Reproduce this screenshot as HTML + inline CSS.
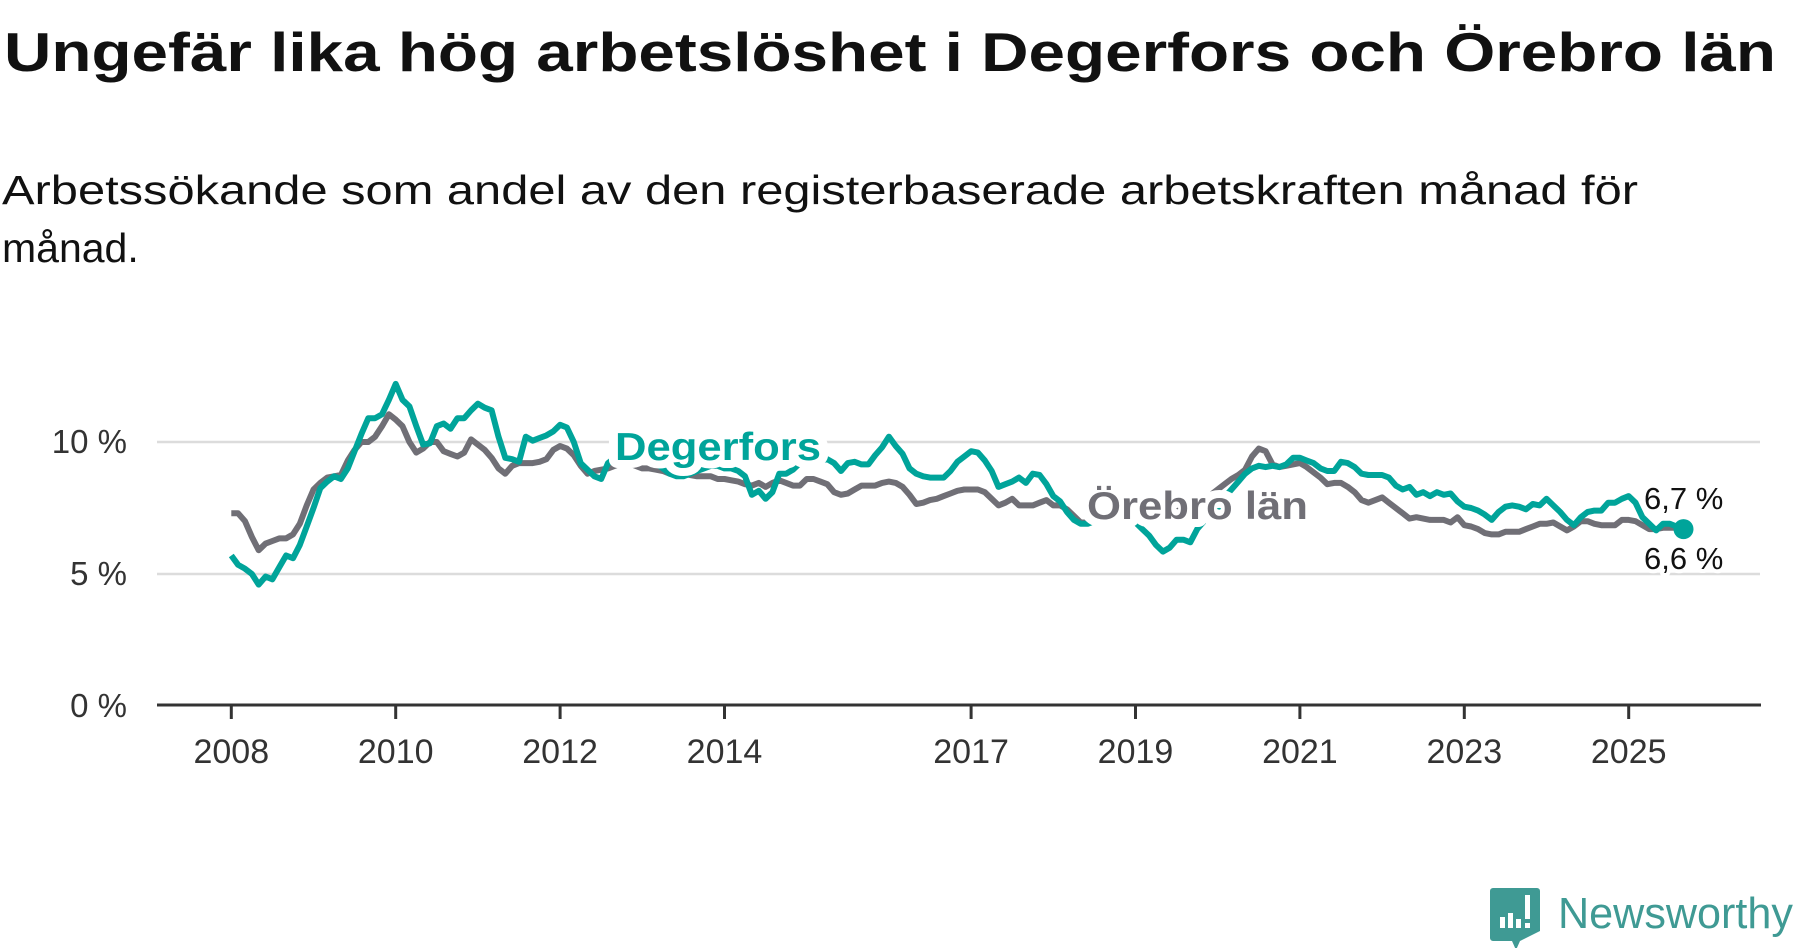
<!DOCTYPE html>
<html><head><meta charset="utf-8"><style>
html,body{margin:0;padding:0;background:#fff}
svg{display:block}
text{font-family:"Liberation Sans",sans-serif}
</style></head><body>
<svg id="chart" width="1800" height="948" viewBox="0 0 1800 948">
<text x="4" y="71" font-size="55" font-weight="bold" fill="#111" textLength="1772" lengthAdjust="spacingAndGlyphs">Ungefär lika hög arbetslöshet i Degerfors och Örebro län</text>
<text x="2" y="204" font-size="41" fill="#111" textLength="1636" lengthAdjust="spacingAndGlyphs">Arbetssökande som andel av den registerbaserade arbetskraften månad för</text>
<text x="2" y="262" font-size="41" fill="#111">månad.</text>
<g id="grid"></g><g id="axis"></g><g id="series"></g><g id="labels"></g>
<g>
<path d="M1493 888 h44 a3 3 0 0 1 3 3 v40 l-20 10 l-4 9 l-4 -9 h-19 a3 3 0 0 1 -3 -3 v-47 a3 3 0 0 1 3 -3z" fill="#3f9a94"/>
<rect x="1500" y="917" width="5" height="11" fill="#fff"/><rect x="1508" y="913" width="5" height="15" fill="#fff"/><rect x="1516" y="919" width="5" height="9" fill="#fff"/><rect x="1525" y="895" width="5" height="24" fill="#fff"/><rect x="1525" y="923" width="5" height="5" fill="#fff"/>
<text x="1558" y="928" font-size="44" fill="#3f9a94" textLength="235" lengthAdjust="spacingAndGlyphs">Newsworthy</text>
</g>
</svg>
<script>
const startYear = 2008;
const yTicks = [0, 5, 10];
const yTickLabels = ["0 %", "5 %", "10 %"];
const xTicks = [2008, 2010, 2012, 2014, 2017, 2019, 2021, 2023, 2025];
const degerfors = [5.7,5.35,5.2,5.0,4.6,4.9,4.8,5.25,5.7,5.6,6.1,6.8,7.5,8.25,8.5,8.7,8.6,9.0,9.65,10.3,10.9,10.9,11.05,11.6,12.2,11.6,11.35,10.6,9.9,9.95,10.6,10.7,10.5,10.9,10.9,11.2,11.45,
11.3,11.2,10.2,9.4,9.35,9.25,10.2,10.05,10.15,10.25,10.4,10.65,10.55,10.0,9.2,8.95,8.7,8.6,9.2,
9.4,9.5,9.6,9.5,9.4,9.3,9.2,9.0,8.8,8.7,8.7,8.8,8.9,9.0,9.1,9.1,9.0,9.0,8.9,
8.7,8.0,8.15,7.85,8.1,8.8,8.8,8.95,9.2,9.3,9.35,9.3,9.35,9.2,8.9,9.2,9.25,9.15,9.15,9.5,9.8,10.2,9.85,9.55,9.0,8.8,8.7,8.65,8.65,8.65,8.9,9.25,9.45,9.65,9.6,9.3,8.9,8.3,8.4,8.5,8.65,8.45,8.8,8.75,8.4,7.95,7.75,7.35,7.05,6.9,
6.9,7.0,7.0,7.1,7.1,7.1,7.05,6.95,6.7,6.45,6.1,5.85,6.0,6.3,6.3,6.2,6.7,7.0,7.2,7.5,7.9,8.2,8.5,8.8,9.0,9.1,9.05,9.1,9.05,9.15,9.4,9.4,9.3,9.2,9.0,8.9,8.9,9.25,9.2,9.05,8.8,8.75,8.75,8.75,8.65,8.35,8.2,8.3,8.0,8.1,7.95,8.1,8.0,8.05,7.75,7.55,7.5,7.4,7.25,7.05,7.35,7.55,7.6,7.55,7.45,7.65,7.6,7.85,7.6,7.35,7.05,6.85,7.15,7.35,7.4,7.4,7.7,7.7,7.85,7.95,7.7,7.15,6.9,6.65,6.9,6.9,6.8,6.7];
const orebro = [7.3,7.3,7.0,6.4,5.9,6.15,6.25,6.35,6.35,6.5,6.9,7.6,8.2,8.45,8.65,8.7,8.75,9.3,9.7,10.0,10.0,10.2,10.6,11.05,10.85,10.6,10.0,9.6,9.75,10.0,10.0,9.65,9.55,9.45,9.6,10.1,9.9,
9.7,9.4,9.0,8.8,9.1,9.2,9.2,9.2,9.25,9.35,9.7,9.85,9.75,9.5,9.1,8.8,8.9,8.95,9.0,
9.1,9.2,9.2,9.1,9.0,9.0,8.95,8.9,8.8,8.8,8.8,8.75,8.7,8.7,8.7,8.6,8.6,8.55,8.5,
8.4,8.35,8.45,8.3,8.45,8.55,8.45,8.35,8.35,8.6,8.6,8.5,8.4,8.1,8.0,8.05,8.2,8.35,8.35,8.35,8.45,8.5,8.45,8.3,8.0,7.65,7.7,7.8,7.85,7.95,8.05,8.15,8.2,8.2,8.2,8.1,7.85,7.6,7.7,7.85,7.6,7.6,7.6,7.7,7.8,7.6,7.6,7.45,7.2,6.95,
6.95,7.0,7.05,7.1,7.1,7.15,7.2,7.25,7.3,7.35,7.4,7.45,7.5,7.55,7.6,7.7,7.8,7.9,8.0,8.2,8.4,8.6,8.75,
8.95,9.45,9.75,9.65,9.15,9.05,9.1,9.15,9.2,9.05,8.85,8.65,8.4,8.45,8.45,8.3,8.1,7.8,7.7,7.8,7.9,7.7,7.5,7.3,7.1,7.15,7.1,7.05,7.05,7.05,6.95,7.15,6.85,6.8,6.7,6.55,6.5,6.5,6.6,6.6,6.6,6.7,6.8,6.9,6.9,6.95,6.8,6.65,6.8,7.0,7.0,6.9,6.85,6.85,6.85,7.05,7.05,7.0,6.85,6.7,6.7,6.75,6.75,6.75,6.6];
const seriesNames = ["Örebro län", "Degerfors"];

const NS = "http://www.w3.org/2000/svg";
const X0 = 231.3, PXYEAR = 82.2, Y0 = 706, PXUNIT = 26.4;
function xScale(year){ return X0 + (year - startYear) * PXYEAR; }
function yScale(v){ return Y0 - v * PXUNIT; }
function monthX(i){ return xScale(startYear + i / 12); }
function mk(tag, attrs, parent){ const e = document.createElementNS(NS, tag); for (const k in attrs) e.setAttribute(k, attrs[k]); parent.appendChild(e); return e; }
const grid = document.getElementById('grid'), axis = document.getElementById('axis'), ser = document.getElementById('series'), lab = document.getElementById('labels');

yTicks.forEach((t, i) => {
  if (t > 0) {
    const gl = mk('line', {x1:157, x2:1760, y1:yScale(t), y2:yScale(t), stroke:'#dcdcdc', 'stroke-width':2.5}, grid);
    
    
  }
  const tl = mk('text', {x:127, y:yScale(t) + 11, 'font-size':33, fill:'#333', 'text-anchor':'end'}, axis);
  tl.textContent = yTickLabels[i];
  
  
});
const ax = mk('line', {x1:157, x2:1761, y1:705, y2:705, stroke:'#333', 'stroke-width':3}, axis);


xTicks.forEach(t => {
  const tk = mk('line', {x1:xScale(t), x2:xScale(t), y1:705, y2:719, stroke:'#333', 'stroke-width':3}, axis);
  
  
  const tl = mk('text', {x:xScale(t), y:763, 'font-size':34, fill:'#333', 'text-anchor':'middle'}, axis);
  tl.textContent = String(t);
  
  
});
function pathFor(arr){ return arr.map((v, i) => (i ? 'L' : 'M') + monthX(i).toFixed(1) + ' ' + yScale(v).toFixed(1)).join(' '); }
const pg = mk('path', {d:pathFor(orebro), fill:'none', stroke:'#706f76', 'stroke-width':6, 'stroke-linejoin':'round'}, ser);


const pt = mk('path', {d:pathFor(degerfors), fill:'none', stroke:'#00a49a', 'stroke-width':6, 'stroke-linejoin':'round'}, ser);


const li = degerfors.length - 1;
const dot = mk('circle', {cx:monthX(li), cy:yScale(degerfors[li]), r:10, fill:'#00a49a'}, ser);



function halo(attrs, txt, name){
  const t = mk('text', Object.assign({stroke:'#fff', 'stroke-width':16, 'paint-order':'stroke', 'stroke-linejoin':'round'}, attrs), lab);
  t.textContent = txt;
  
  
}
halo({x:615, y:460, 'font-size':39, 'font-weight':'bold', fill:'#00a49a', textLength:206, lengthAdjust:'spacingAndGlyphs'}, seriesNames[1], 'degerfors-label');
halo({x:1087, y:519, 'font-size':39, 'font-weight':'bold', fill:'#706f76', textLength:221, lengthAdjust:'spacingAndGlyphs'}, seriesNames[0], 'orebro-label');
halo({x:1644, y:509, 'font-size':31, fill:'#111', 'stroke-width':8}, degerfors[li].toFixed(1).replace('.', ',') + ' %', 'degerfors-end-value');
halo({x:1644, y:569, 'font-size':31, fill:'#111', 'stroke-width':8}, orebro[orebro.length-1].toFixed(1).replace('.', ',') + ' %', 'orebro-end-value');
</script>
</body></html>
